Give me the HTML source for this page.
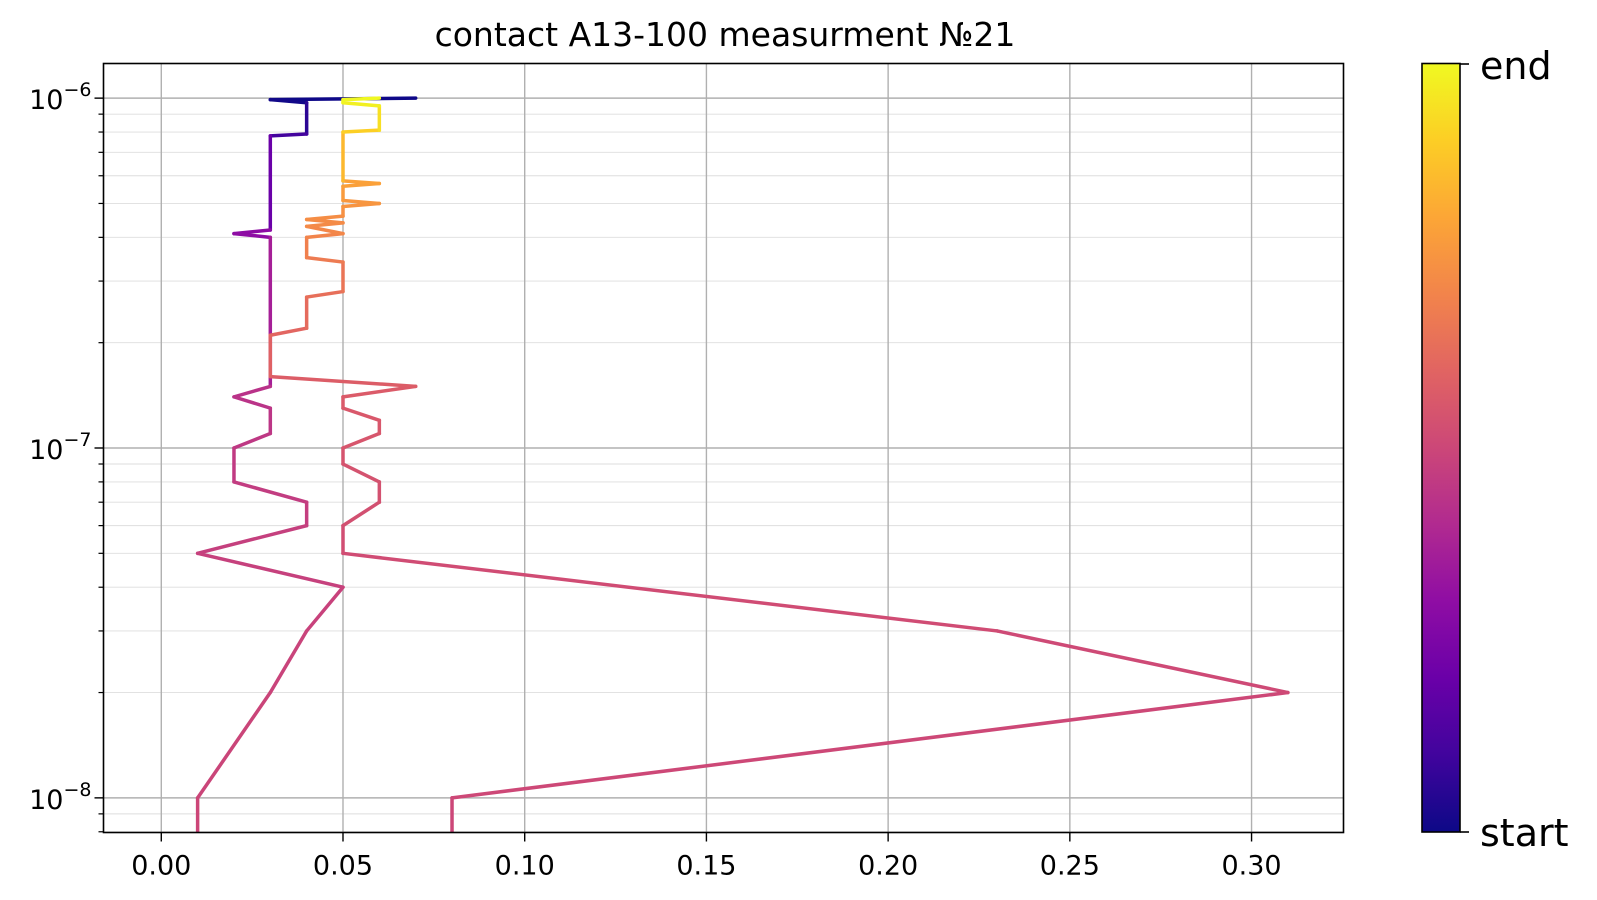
<!DOCTYPE html>
<html><head><meta charset="utf-8"><style>
body{margin:0;background:#fff;}
svg{display:block;font-family:"DejaVu Sans","Liberation Sans",sans-serif;}
</style></head><body>
<svg id="chart" width="1597" height="900" viewBox="0 0 1597 900">
<defs>
<linearGradient id="plasma" x1="0" y1="1" x2="0" y2="0">
<stop offset="0" stop-color="#0d0887"/><stop offset="0.1" stop-color="#41049d"/><stop offset="0.2" stop-color="#6a00a8"/><stop offset="0.3" stop-color="#8f0da4"/><stop offset="0.4" stop-color="#b12a90"/><stop offset="0.5" stop-color="#cc4778"/><stop offset="0.6" stop-color="#e16462"/><stop offset="0.7" stop-color="#f2844b"/><stop offset="0.8" stop-color="#fca636"/><stop offset="0.9" stop-color="#fcce25"/><stop offset="1" stop-color="#f0f921"/>
</linearGradient>
<clipPath id="plotclip"><rect x="103.5" y="63.5" width="1240" height="769"/></clipPath>
</defs>
<text x="725" y="46" text-anchor="middle" font-size="33" fill="#000">contact A13-100 measurment №21</text>
<g id="grid"></g>
<g id="series" clip-path="url(#plotclip)"></g>
<rect x="103.5" y="63.5" width="1240" height="769" fill="none" stroke="#000" stroke-width="1.6"/>
<g id="axes"></g>
<rect x="1422" y="63.5" width="38" height="768.5" fill="url(#plasma)" stroke="#000" stroke-width="1.6"/>
<line x1="1460" y1="64" x2="1469" y2="64" stroke="#000" stroke-width="1.6"/>
<line x1="1460" y1="832" x2="1469" y2="832" stroke="#000" stroke-width="1.6"/>
<text x="1480" y="79" font-size="38" fill="#000">end</text>
<text x="1480" y="846" font-size="38" fill="#000">start</text>
</svg>
<script>
const xs = [0.07,0.03,0.04,0.04,0.03,0.03,0.02,0.03,0.03,0.02,0.03,0.03,0.02,0.02,0.04,0.04,0.01,0.05,0.04,0.03,0.01,0.01,0.08,0.08,0.31,0.23,0.05,0.05,0.06,0.06,0.05,0.05,0.06,0.06,0.05,0.05,0.07,0.03,0.03,0.04,0.04,0.05,0.05,0.04,0.04,0.05,0.04,0.05,0.04,0.05,0.05,0.06,0.05,0.05,0.06,0.05,0.05,0.06,0.06,0.05,0.05,0.06];
const ys = [1.0,0.99,0.97,0.79,0.78,0.42,0.41,0.40,0.15,0.14,0.13,0.11,0.10,0.08,0.07,0.06,0.05,0.04,0.03,0.02,0.01,0.005,0.005,0.01,0.02,0.03,0.05,0.06,0.07,0.08,0.09,0.10,0.11,0.12,0.13,0.14,0.15,0.16,0.21,0.22,0.27,0.28,0.34,0.35,0.40,0.41,0.43,0.44,0.45,0.46,0.49,0.50,0.51,0.56,0.57,0.58,0.80,0.81,0.95,0.97,0.99,1.0];
const yUnit = 1e-6;
const xTicks = [0,0.05,0.10,0.15,0.20,0.25,0.30];
const xTickLabels = ["0.00","0.05","0.10","0.15","0.20","0.25","0.30"];
const yDecades = [-8,-7,-6];
const yDecadeLabels = ["−8","−7","−6"];

const NS="http://www.w3.org/2000/svg";
const L=103.5,R=1343.5,T=63.5,B=832.5;
const xmin=-0.0159,xmax=0.3253, lymin=-8.099, lymax=-5.901;
function X(v){return L+(v-xmin)/(xmax-xmin)*(R-L);}
function Y(v){return B-(Math.log10(v)-lymin)/(lymax-lymin)*(B-T);}
function mk(tag,attrs,parent){const e=document.createElementNS(NS,tag);for(const k in attrs)e.setAttribute(k,attrs[k]);parent.appendChild(e);return e;}
const grid=document.getElementById('grid'),axes=document.getElementById('axes'),series=document.getElementById('series');
for(let d=-9;d<=-6;d++){for(let m=2;m<=9;m++){const v=m*Math.pow(10,d);const ly=Math.log10(v);if(ly<lymin||ly>lymax)continue;const y=Y(v);
 const g=mk('line',{x1:L,x2:R,y1:y,y2:y,stroke:'#dedede','stroke-width':0.9},grid);
 
 
 mk('line',{x1:L-5,x2:L,y1:y,y2:y,stroke:'#000','stroke-width':1.2},axes);}}
yDecades.forEach((d,i)=>{const y=Y(Math.pow(10,d));
 const g=mk('line',{x1:L,x2:R,y1:y,y2:y,stroke:'#b0b0b0','stroke-width':1.4},grid);
 
 
 mk('line',{x1:L-9,x2:L,y1:y,y2:y,stroke:'#000','stroke-width':1.4},axes);
 const t=mk('text',{x:L-12,y:y+11,'text-anchor':'end','font-size':27},axes);
 
 
 t.textContent='10';
 const s=mk('tspan',{'font-size':19,dy:-13},t);s.textContent=yDecadeLabels[i];});
xTicks.forEach((v,i)=>{const x=X(v);
 const g=mk('line',{x1:x,x2:x,y1:T,y2:B,stroke:'#b0b0b0','stroke-width':1.4},grid);
 
 
 mk('line',{x1:x,x2:x,y1:B,y2:B+9,stroke:'#000','stroke-width':1.4},axes);
 const t=mk('text',{x:x,y:B+42,'text-anchor':'middle','font-size':27},axes);
 
 
 t.textContent=xTickLabels[i];});
const stops=[[13,8,135],[65,4,157],[106,0,168],[143,13,164],[177,42,144],[204,71,120],[225,100,98],[242,132,75],[252,166,54],[252,206,37],[240,249,33]];
function plasma(t){t=Math.max(0,Math.min(1,t))*10;const i=Math.min(9,Math.floor(t)),f=t-i;const a=stops[i],b=stops[i+1];return 'rgb('+a.map((c,k)=>Math.round(c+(b[k]-c)*f)).join(',')+')';}
const n=xs.length;
const cum=[0];
for(let i=1;i<n;i++)cum.push(cum[i-1]+Math.abs(ys[i]-ys[i-1])+1e-4);
const total=cum[n-1];
for(let i=0;i<n-1;i++){
 const t=(cum[i]+cum[i+1])/2/total;
 const s=mk('line',{x1:X(xs[i]),y1:Y(ys[i]*yUnit),x2:X(xs[i+1]),y2:Y(ys[i+1]*yUnit),stroke:plasma(t),'stroke-width':3.5,'stroke-linecap':'round'},series);
 
 
}
</script>
</body></html>
